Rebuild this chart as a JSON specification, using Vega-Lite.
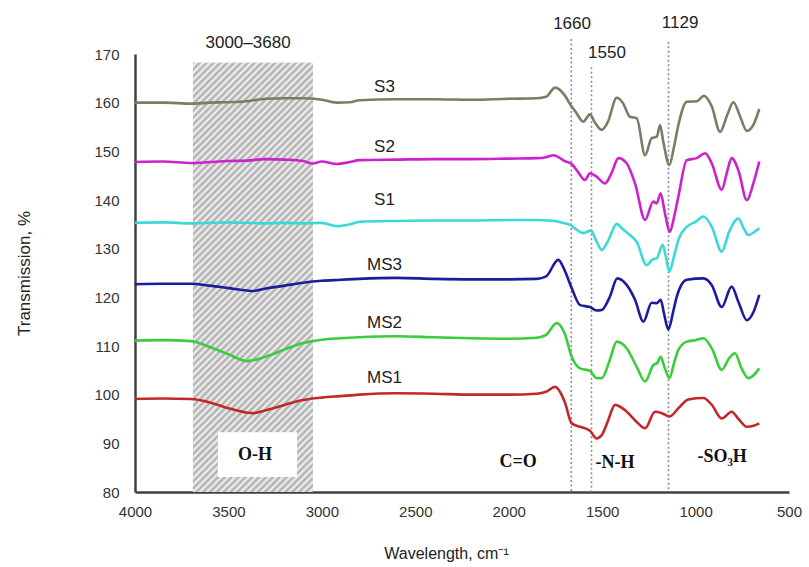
{
"$schema":"https://vega.github.io/schema/vega-lite/v6.json",
"autosize":{"type":"none"},
"padding":{"left":135,"top":54,"right":20,"bottom":75},
"width":654,
"height":438,
"config":{"view":{"stroke":null},"font":"Liberation Sans"},
"datasets":{
"spectra":[
{"s":"S3","w":4000,"t":160.0},{"s":"S3","w":3850,"t":160.0},{"s":"S3","w":3700,"t":159.8},{"s":"S3","w":3600,"t":160.0},{"s":"S3","w":3500,"t":160.1},{"s":"S3","w":3400,"t":160.3},{"s":"S3","w":3300,"t":160.8},{"s":"S3","w":3200,"t":160.9},{"s":"S3","w":3100,"t":160.9},{"s":"S3","w":3000,"t":160.6},{"s":"S3","w":2920,"t":160.0},{"s":"S3","w":2850,"t":160.1},{"s":"S3","w":2800,"t":160.5},{"s":"S3","w":2600,"t":160.7},{"s":"S3","w":2400,"t":160.7},{"s":"S3","w":2200,"t":160.6},{"s":"S3","w":2000,"t":160.8},{"s":"S3","w":1850,"t":160.9},{"s":"S3","w":1800,"t":161.2},{"s":"S3","w":1752,"t":163.1},{"s":"S3","w":1700,"t":161.5},{"s":"S3","w":1672,"t":159.7},{"s":"S3","w":1640,"t":158.0},{"s":"S3","w":1601,"t":156.1},{"s":"S3","w":1565,"t":157.6},{"s":"S3","w":1540,"t":156.0},{"s":"S3","w":1502,"t":154.4},{"s":"S3","w":1470,"t":156.0},{"s":"S3","w":1422,"t":161.0},{"s":"S3","w":1390,"t":160.0},{"s":"S3","w":1351,"t":157.1},{"s":"S3","w":1315,"t":156.8},{"s":"S3","w":1270,"t":149.2},{"s":"S3","w":1235,"t":152.7},{"s":"S3","w":1208,"t":153.0},{"s":"S3","w":1190,"t":155.4},{"s":"S3","w":1173,"t":152.0},{"s":"S3","w":1140,"t":147.2},{"s":"S3","w":1115,"t":151.0},{"s":"S3","w":1092,"t":155.4},{"s":"S3","w":1047,"t":160.2},{"s":"S3","w":994,"t":160.3},{"s":"S3","w":955,"t":161.4},{"s":"S3","w":913,"t":159.2},{"s":"S3","w":869,"t":154.0},{"s":"S3","w":830,"t":157.5},{"s":"S3","w":798,"t":160.1},{"s":"S3","w":760,"t":157.0},{"s":"S3","w":726,"t":154.2},{"s":"S3","w":690,"t":155.5},{"s":"S3","w":659,"t":158.7},
{"s":"S2","w":4000,"t":147.8},{"s":"S2","w":3850,"t":147.9},{"s":"S2","w":3700,"t":147.6},{"s":"S2","w":3600,"t":147.8},{"s":"S2","w":3500,"t":148.0},{"s":"S2","w":3400,"t":148.1},{"s":"S2","w":3300,"t":148.4},{"s":"S2","w":3200,"t":148.3},{"s":"S2","w":3100,"t":148.0},{"s":"S2","w":3050,"t":147.5},{"s":"S2","w":3000,"t":147.9},{"s":"S2","w":2920,"t":147.4},{"s":"S2","w":2850,"t":147.8},{"s":"S2","w":2800,"t":148.2},{"s":"S2","w":2600,"t":148.3},{"s":"S2","w":2400,"t":148.4},{"s":"S2","w":2200,"t":148.4},{"s":"S2","w":2000,"t":148.5},{"s":"S2","w":1850,"t":148.6},{"s":"S2","w":1800,"t":148.8},{"s":"S2","w":1760,"t":149.2},{"s":"S2","w":1700,"t":148.0},{"s":"S2","w":1663,"t":147.4},{"s":"S2","w":1630,"t":145.8},{"s":"S2","w":1592,"t":144.1},{"s":"S2","w":1565,"t":145.5},{"s":"S2","w":1530,"t":144.8},{"s":"S2","w":1485,"t":143.4},{"s":"S2","w":1450,"t":145.5},{"s":"S2","w":1413,"t":148.6},{"s":"S2","w":1368,"t":147.5},{"s":"S2","w":1324,"t":143.4},{"s":"S2","w":1270,"t":135.9},{"s":"S2","w":1226,"t":139.7},{"s":"S2","w":1208,"t":139.3},{"s":"S2","w":1187,"t":141.4},{"s":"S2","w":1164,"t":137.3},{"s":"S2","w":1137,"t":133.5},{"s":"S2","w":1115,"t":136.5},{"s":"S2","w":1092,"t":140.7},{"s":"S2","w":1047,"t":148.2},{"s":"S2","w":994,"t":148.6},{"s":"S2","w":949,"t":149.6},{"s":"S2","w":913,"t":147.5},{"s":"S2","w":860,"t":142.1},{"s":"S2","w":830,"t":146.0},{"s":"S2","w":807,"t":148.6},{"s":"S2","w":770,"t":146.0},{"s":"S2","w":726,"t":140.0},{"s":"S2","w":690,"t":143.5},{"s":"S2","w":659,"t":147.9},
{"s":"S1","w":4000,"t":135.3},{"s":"S1","w":3850,"t":135.4},{"s":"S1","w":3700,"t":135.2},{"s":"S1","w":3600,"t":135.3},{"s":"S1","w":3500,"t":135.4},{"s":"S1","w":3400,"t":135.3},{"s":"S1","w":3300,"t":135.2},{"s":"S1","w":3200,"t":135.3},{"s":"S1","w":3100,"t":135.2},{"s":"S1","w":3000,"t":135.3},{"s":"S1","w":2920,"t":134.6},{"s":"S1","w":2850,"t":135.0},{"s":"S1","w":2800,"t":135.5},{"s":"S1","w":2600,"t":135.7},{"s":"S1","w":2400,"t":135.8},{"s":"S1","w":2200,"t":135.8},{"s":"S1","w":2000,"t":135.9},{"s":"S1","w":1850,"t":135.9},{"s":"S1","w":1800,"t":135.8},{"s":"S1","w":1740,"t":135.6},{"s":"S1","w":1700,"t":135.2},{"s":"S1","w":1672,"t":134.9},{"s":"S1","w":1640,"t":134.0},{"s":"S1","w":1601,"t":133.2},{"s":"S1","w":1561,"t":133.7},{"s":"S1","w":1530,"t":131.5},{"s":"S1","w":1502,"t":129.7},{"s":"S1","w":1470,"t":131.5},{"s":"S1","w":1422,"t":135.1},{"s":"S1","w":1390,"t":134.0},{"s":"S1","w":1351,"t":132.8},{"s":"S1","w":1315,"t":131.4},{"s":"S1","w":1262,"t":126.6},{"s":"S1","w":1230,"t":127.8},{"s":"S1","w":1208,"t":128.0},{"s":"S1","w":1176,"t":130.8},{"s":"S1","w":1160,"t":128.5},{"s":"S1","w":1140,"t":125.3},{"s":"S1","w":1115,"t":128.5},{"s":"S1","w":1092,"t":131.8},{"s":"S1","w":1047,"t":134.5},{"s":"S1","w":1000,"t":135.5},{"s":"S1","w":958,"t":136.6},{"s":"S1","w":913,"t":134.5},{"s":"S1","w":860,"t":129.4},{"s":"S1","w":820,"t":133.5},{"s":"S1","w":771,"t":136.2},{"s":"S1","w":740,"t":134.0},{"s":"S1","w":718,"t":132.8},{"s":"S1","w":690,"t":133.3},{"s":"S1","w":659,"t":134.2},
{"s":"MS3","w":4000,"t":122.7},{"s":"MS3","w":3850,"t":122.8},{"s":"MS3","w":3700,"t":122.8},{"s":"MS3","w":3600,"t":122.4},{"s":"MS3","w":3500,"t":121.9},{"s":"MS3","w":3400,"t":121.4},{"s":"MS3","w":3370,"t":121.3},{"s":"MS3","w":3300,"t":121.8},{"s":"MS3","w":3200,"t":122.4},{"s":"MS3","w":3100,"t":123.0},{"s":"MS3","w":3000,"t":123.4},{"s":"MS3","w":2900,"t":123.6},{"s":"MS3","w":2800,"t":123.8},{"s":"MS3","w":2600,"t":124.0},{"s":"MS3","w":2400,"t":123.8},{"s":"MS3","w":2200,"t":123.7},{"s":"MS3","w":2000,"t":123.7},{"s":"MS3","w":1850,"t":123.8},{"s":"MS3","w":1800,"t":124.3},{"s":"MS3","w":1735,"t":127.7},{"s":"MS3","w":1700,"t":125.5},{"s":"MS3","w":1663,"t":121.9},{"s":"MS3","w":1618,"t":118.4},{"s":"MS3","w":1565,"t":118.0},{"s":"MS3","w":1530,"t":117.3},{"s":"MS3","w":1502,"t":117.4},{"s":"MS3","w":1460,"t":120.0},{"s":"MS3","w":1419,"t":123.9},{"s":"MS3","w":1368,"t":122.5},{"s":"MS3","w":1324,"t":119.5},{"s":"MS3","w":1279,"t":115.0},{"s":"MS3","w":1235,"t":118.9},{"s":"MS3","w":1208,"t":118.8},{"s":"MS3","w":1187,"t":119.5},{"s":"MS3","w":1169,"t":116.7},{"s":"MS3","w":1146,"t":113.4},{"s":"MS3","w":1120,"t":117.0},{"s":"MS3","w":1101,"t":120.1},{"s":"MS3","w":1047,"t":123.6},{"s":"MS3","w":958,"t":123.9},{"s":"MS3","w":913,"t":122.5},{"s":"MS3","w":860,"t":118.0},{"s":"MS3","w":807,"t":122.2},{"s":"MS3","w":770,"t":119.0},{"s":"MS3","w":726,"t":115.3},{"s":"MS3","w":690,"t":117.0},{"s":"MS3","w":659,"t":120.5},
{"s":"MS2","w":4000,"t":111.1},{"s":"MS2","w":3850,"t":111.2},{"s":"MS2","w":3700,"t":111.0},{"s":"MS2","w":3600,"t":109.8},{"s":"MS2","w":3500,"t":108.3},{"s":"MS2","w":3400,"t":106.9},{"s":"MS2","w":3300,"t":107.8},{"s":"MS2","w":3200,"t":109.3},{"s":"MS2","w":3100,"t":110.6},{"s":"MS2","w":3000,"t":111.3},{"s":"MS2","w":2900,"t":111.6},{"s":"MS2","w":2800,"t":111.8},{"s":"MS2","w":2600,"t":112.0},{"s":"MS2","w":2400,"t":111.8},{"s":"MS2","w":2200,"t":111.6},{"s":"MS2","w":2000,"t":111.5},{"s":"MS2","w":1850,"t":111.7},{"s":"MS2","w":1800,"t":112.3},{"s":"MS2","w":1743,"t":114.7},{"s":"MS2","w":1700,"t":112.5},{"s":"MS2","w":1663,"t":107.8},{"s":"MS2","w":1618,"t":105.4},{"s":"MS2","w":1565,"t":104.9},{"s":"MS2","w":1530,"t":103.4},{"s":"MS2","w":1502,"t":103.4},{"s":"MS2","w":1460,"t":107.0},{"s":"MS2","w":1422,"t":110.9},{"s":"MS2","w":1368,"t":109.5},{"s":"MS2","w":1315,"t":105.7},{"s":"MS2","w":1270,"t":102.7},{"s":"MS2","w":1226,"t":106.1},{"s":"MS2","w":1205,"t":106.5},{"s":"MS2","w":1187,"t":107.8},{"s":"MS2","w":1165,"t":105.5},{"s":"MS2","w":1140,"t":103.4},{"s":"MS2","w":1115,"t":106.5},{"s":"MS2","w":1092,"t":109.2},{"s":"MS2","w":1047,"t":110.9},{"s":"MS2","w":1000,"t":111.2},{"s":"MS2","w":958,"t":111.6},{"s":"MS2","w":913,"t":109.5},{"s":"MS2","w":860,"t":105.1},{"s":"MS2","w":820,"t":107.5},{"s":"MS2","w":789,"t":108.5},{"s":"MS2","w":755,"t":105.5},{"s":"MS2","w":718,"t":103.4},{"s":"MS2","w":690,"t":104.0},{"s":"MS2","w":659,"t":105.4},
{"s":"MS1","w":4000,"t":99.1},{"s":"MS1","w":3850,"t":99.2},{"s":"MS1","w":3700,"t":99.1},{"s":"MS1","w":3600,"t":98.4},{"s":"MS1","w":3500,"t":97.2},{"s":"MS1","w":3400,"t":96.3},{"s":"MS1","w":3370,"t":96.2},{"s":"MS1","w":3300,"t":96.8},{"s":"MS1","w":3200,"t":97.9},{"s":"MS1","w":3100,"t":98.9},{"s":"MS1","w":3000,"t":99.4},{"s":"MS1","w":2900,"t":99.7},{"s":"MS1","w":2800,"t":100.0},{"s":"MS1","w":2600,"t":100.3},{"s":"MS1","w":2400,"t":100.2},{"s":"MS1","w":2200,"t":100.0},{"s":"MS1","w":2000,"t":100.0},{"s":"MS1","w":1850,"t":100.2},{"s":"MS1","w":1800,"t":100.6},{"s":"MS1","w":1752,"t":101.6},{"s":"MS1","w":1700,"t":98.5},{"s":"MS1","w":1663,"t":94.1},{"s":"MS1","w":1618,"t":93.4},{"s":"MS1","w":1565,"t":92.6},{"s":"MS1","w":1530,"t":91.0},{"s":"MS1","w":1502,"t":91.7},{"s":"MS1","w":1470,"t":94.5},{"s":"MS1","w":1431,"t":97.9},{"s":"MS1","w":1368,"t":96.5},{"s":"MS1","w":1315,"t":94.4},{"s":"MS1","w":1270,"t":93.1},{"s":"MS1","w":1217,"t":96.5},{"s":"MS1","w":1181,"t":96.2},{"s":"MS1","w":1140,"t":95.5},{"s":"MS1","w":1092,"t":97.2},{"s":"MS1","w":1039,"t":99.0},{"s":"MS1","w":958,"t":99.3},{"s":"MS1","w":913,"t":97.9},{"s":"MS1","w":860,"t":95.1},{"s":"MS1","w":807,"t":96.5},{"s":"MS1","w":770,"t":95.0},{"s":"MS1","w":726,"t":93.4},{"s":"MS1","w":690,"t":93.6},{"s":"MS1","w":659,"t":94.1}
]
},
"layer":[
{
"data":{"values":[{}]},
"mark":{"type":"rect","fill":"#d4d4d4"},
"encoding":{
"x":{"datum":3690,"type":"quantitative","scale":{"domain":[500,4000],"reverse":true,"nice":false}},
"x2":{"datum":3048},
"y":{"datum":168.2,"type":"quantitative","scale":{"domain":[80,170],"nice":false}},
"y2":{"datum":80}
}
},
{
"data":{"values":[{}]},
"mark":{"type":"rect","fill":{"gradient":"linear","x1":0,"y1":0,"x2":0.332,"y2":1.187,"stops":[
{"offset":0,"color":"#aaa"},{"offset":0.00625,"color":"#f4f4f4"},{"offset":0.0125,"color":"#aaa"},{"offset":0.01875,"color":"#f4f4f4"},{"offset":0.025,"color":"#aaa"},{"offset":0.03125,"color":"#f4f4f4"},{"offset":0.0375,"color":"#aaa"},{"offset":0.04375,"color":"#f4f4f4"},
{"offset":0.05,"color":"#aaa"},{"offset":0.05625,"color":"#f4f4f4"},{"offset":0.0625,"color":"#aaa"},{"offset":0.06875,"color":"#f4f4f4"},{"offset":0.075,"color":"#aaa"},{"offset":0.08125,"color":"#f4f4f4"},{"offset":0.0875,"color":"#aaa"},{"offset":0.09375,"color":"#f4f4f4"},
{"offset":0.1,"color":"#aaa"},{"offset":0.10625,"color":"#f4f4f4"},{"offset":0.1125,"color":"#aaa"},{"offset":0.11875,"color":"#f4f4f4"},{"offset":0.125,"color":"#aaa"},{"offset":0.13125,"color":"#f4f4f4"},{"offset":0.1375,"color":"#aaa"},{"offset":0.14375,"color":"#f4f4f4"},
{"offset":0.15,"color":"#aaa"},{"offset":0.15625,"color":"#f4f4f4"},{"offset":0.1625,"color":"#aaa"},{"offset":0.16875,"color":"#f4f4f4"},{"offset":0.175,"color":"#aaa"},{"offset":0.18125,"color":"#f4f4f4"},{"offset":0.1875,"color":"#aaa"},{"offset":0.19375,"color":"#f4f4f4"},
{"offset":0.2,"color":"#aaa"},{"offset":0.20625,"color":"#f4f4f4"},{"offset":0.2125,"color":"#aaa"},{"offset":0.21875,"color":"#f4f4f4"},{"offset":0.225,"color":"#aaa"},{"offset":0.23125,"color":"#f4f4f4"},{"offset":0.2375,"color":"#aaa"},{"offset":0.24375,"color":"#f4f4f4"},
{"offset":0.25,"color":"#aaa"},{"offset":0.25625,"color":"#f4f4f4"},{"offset":0.2625,"color":"#aaa"},{"offset":0.26875,"color":"#f4f4f4"},{"offset":0.275,"color":"#aaa"},{"offset":0.28125,"color":"#f4f4f4"},{"offset":0.2875,"color":"#aaa"},{"offset":0.29375,"color":"#f4f4f4"},
{"offset":0.3,"color":"#aaa"},{"offset":0.30625,"color":"#f4f4f4"},{"offset":0.3125,"color":"#aaa"},{"offset":0.31875,"color":"#f4f4f4"},{"offset":0.325,"color":"#aaa"},{"offset":0.33125,"color":"#f4f4f4"},{"offset":0.3375,"color":"#aaa"},{"offset":0.34375,"color":"#f4f4f4"},
{"offset":0.35,"color":"#aaa"},{"offset":0.35625,"color":"#f4f4f4"},{"offset":0.3625,"color":"#aaa"},{"offset":0.36875,"color":"#f4f4f4"},{"offset":0.375,"color":"#aaa"},{"offset":0.38125,"color":"#f4f4f4"},{"offset":0.3875,"color":"#aaa"},{"offset":0.39375,"color":"#f4f4f4"},
{"offset":0.4,"color":"#aaa"},{"offset":0.40625,"color":"#f4f4f4"},{"offset":0.4125,"color":"#aaa"},{"offset":0.41875,"color":"#f4f4f4"},{"offset":0.425,"color":"#aaa"},{"offset":0.43125,"color":"#f4f4f4"},{"offset":0.4375,"color":"#aaa"},{"offset":0.44375,"color":"#f4f4f4"},
{"offset":0.45,"color":"#aaa"},{"offset":0.45625,"color":"#f4f4f4"},{"offset":0.4625,"color":"#aaa"},{"offset":0.46875,"color":"#f4f4f4"},{"offset":0.475,"color":"#aaa"},{"offset":0.48125,"color":"#f4f4f4"},{"offset":0.4875,"color":"#aaa"},{"offset":0.49375,"color":"#f4f4f4"},
{"offset":0.5,"color":"#aaa"},{"offset":0.50625,"color":"#f4f4f4"},{"offset":0.5125,"color":"#aaa"},{"offset":0.51875,"color":"#f4f4f4"},{"offset":0.525,"color":"#aaa"},{"offset":0.53125,"color":"#f4f4f4"},{"offset":0.5375,"color":"#aaa"},{"offset":0.54375,"color":"#f4f4f4"},
{"offset":0.55,"color":"#aaa"},{"offset":0.55625,"color":"#f4f4f4"},{"offset":0.5625,"color":"#aaa"},{"offset":0.56875,"color":"#f4f4f4"},{"offset":0.575,"color":"#aaa"},{"offset":0.58125,"color":"#f4f4f4"},{"offset":0.5875,"color":"#aaa"},{"offset":0.59375,"color":"#f4f4f4"},
{"offset":0.6,"color":"#aaa"},{"offset":0.60625,"color":"#f4f4f4"},{"offset":0.6125,"color":"#aaa"},{"offset":0.61875,"color":"#f4f4f4"},{"offset":0.625,"color":"#aaa"},{"offset":0.63125,"color":"#f4f4f4"},{"offset":0.6375,"color":"#aaa"},{"offset":0.64375,"color":"#f4f4f4"},
{"offset":0.65,"color":"#aaa"},{"offset":0.65625,"color":"#f4f4f4"},{"offset":0.6625,"color":"#aaa"},{"offset":0.66875,"color":"#f4f4f4"},{"offset":0.675,"color":"#aaa"},{"offset":0.68125,"color":"#f4f4f4"},{"offset":0.6875,"color":"#aaa"},{"offset":0.69375,"color":"#f4f4f4"},
{"offset":0.7,"color":"#aaa"},{"offset":0.70625,"color":"#f4f4f4"},{"offset":0.7125,"color":"#aaa"},{"offset":0.71875,"color":"#f4f4f4"},{"offset":0.725,"color":"#aaa"},{"offset":0.73125,"color":"#f4f4f4"},{"offset":0.7375,"color":"#aaa"},{"offset":0.74375,"color":"#f4f4f4"},
{"offset":0.75,"color":"#aaa"},{"offset":0.75625,"color":"#f4f4f4"},{"offset":0.7625,"color":"#aaa"},{"offset":0.76875,"color":"#f4f4f4"},{"offset":0.775,"color":"#aaa"},{"offset":0.78125,"color":"#f4f4f4"},{"offset":0.7875,"color":"#aaa"},{"offset":0.79375,"color":"#f4f4f4"},
{"offset":0.8,"color":"#aaa"},{"offset":0.80625,"color":"#f4f4f4"},{"offset":0.8125,"color":"#aaa"},{"offset":0.81875,"color":"#f4f4f4"},{"offset":0.825,"color":"#aaa"},{"offset":0.83125,"color":"#f4f4f4"},{"offset":0.8375,"color":"#aaa"},{"offset":0.84375,"color":"#f4f4f4"},
{"offset":0.85,"color":"#aaa"},{"offset":0.85625,"color":"#f4f4f4"},{"offset":0.8625,"color":"#aaa"},{"offset":0.86875,"color":"#f4f4f4"},{"offset":0.875,"color":"#aaa"},{"offset":0.88125,"color":"#f4f4f4"},{"offset":0.8875,"color":"#aaa"},{"offset":0.89375,"color":"#f4f4f4"},
{"offset":0.9,"color":"#aaa"},{"offset":0.90625,"color":"#f4f4f4"},{"offset":0.9125,"color":"#aaa"},{"offset":0.91875,"color":"#f4f4f4"},{"offset":0.925,"color":"#aaa"},{"offset":0.93125,"color":"#f4f4f4"},{"offset":0.9375,"color":"#aaa"},{"offset":0.94375,"color":"#f4f4f4"},
{"offset":0.95,"color":"#aaa"},{"offset":0.95625,"color":"#f4f4f4"},{"offset":0.9625,"color":"#aaa"},{"offset":0.96875,"color":"#f4f4f4"},{"offset":0.975,"color":"#aaa"},{"offset":0.98125,"color":"#f4f4f4"},{"offset":0.9875,"color":"#aaa"},{"offset":0.99375,"color":"#f4f4f4"},
{"offset":1,"color":"#aaa"}
]}},
"encoding":{
"x":{"datum":3690,"type":"quantitative"},
"x2":{"datum":3048},
"y":{"datum":168.2,"type":"quantitative"},
"y2":{"datum":80}
}
},
{
"data":{"values":[{}]},
"mark":{"type":"rect","fill":"white"},
"encoding":{
"x":{"datum":3556,"type":"quantitative"},
"x2":{"datum":3133},
"y":{"datum":92.3,"type":"quantitative"},
"y2":{"datum":83.1}
}
},
{
"data":{"values":[{"w":1665,"top":173.1},{"w":1557,"top":167.3},{"w":1145,"top":172.5}]},
"mark":{"type":"rule","color":"#8a8a9a","strokeWidth":1.6,"strokeDash":[2,2.5]},
"encoding":{
"x":{"field":"w","type":"quantitative"},
"y":{"field":"top","type":"quantitative"},
"y2":{"datum":80}
}
},
{
"data":{"name":"spectra"},
"mark":{"type":"line","strokeWidth":2.6,"interpolate":"monotone"},
"encoding":{
"x":{"field":"w","type":"quantitative","axis":{"title":"Wavelength, cm⁻¹","values":[4000,3500,3000,2500,2000,1500,1000,500],"format":"d","labelFlush":false,"grid":false,"ticks":false,"domainColor":"#404040","domainWidth":2.5,"labelFontSize":15,"labelColor":"#333","labelPadding":12,"titleFontSize":16,"titleFontWeight":"normal","titleColor":"#222","titleX":311,"titleY":61,"titleBaseline":"middle","titleAlign":"center"}},
"y":{"field":"t","type":"quantitative","axis":{"title":"Transmission, %","values":[80,90,100,110,120,130,140,150,160,170],"format":"d","labelFlush":false,"grid":false,"ticks":false,"domainColor":"#404040","domainWidth":2.5,"labelFontSize":15,"labelColor":"#333","labelPadding":16,"titleFontSize":17,"titleFontWeight":"normal","titleColor":"#222","titleX":-111,"titleY":219,"titleAngle":-90,"titleBaseline":"middle","titleAlign":"center"}},
"color":{"field":"s","type":"nominal","legend":null,"scale":{"domain":["S3","S2","S1","MS3","MS2","MS1"],"range":["#7b7d62","#cc22cc","#3cd8d8","#1c1c9c","#3ccc3c","#c0282a"]}},
"detail":{"field":"s"}
}
},
{
"data":{"values":[{"label":"S3","w":2665,"t":163.2},{"label":"S2","w":2665,"t":150.9},{"label":"S1","w":2665,"t":140.0},{"label":"MS3","w":2665,"t":126.6},{"label":"MS2","w":2665,"t":114.7},{"label":"MS1","w":2665,"t":103.4}]},
"mark":{"type":"text","fontSize":17,"color":"#222","font":"Liberation Sans","baseline":"middle","align":"center"},
"encoding":{
"x":{"field":"w","type":"quantitative"},
"y":{"field":"t","type":"quantitative"},
"text":{"field":"label"}
}
},
{
"data":{"values":[{"label":"3000–3680","w":3395,"t":172.3},{"label":"1660","w":1661,"t":176.2},{"label":"1550","w":1474,"t":170.2},{"label":"1129","w":1083,"t":176.4}]},
"mark":{"type":"text","fontSize":17,"color":"#222","font":"Liberation Sans","baseline":"middle","align":"center"},
"encoding":{
"x":{"field":"w","type":"quantitative"},
"y":{"field":"t","type":"quantitative"},
"text":{"field":"label"}
}
},
{
"data":{"values":[{"label":"O-H","w":3358,"t":87.6},{"label":"C=O","w":1950,"t":86.2},{"label":"-N-H","w":1431,"t":86.0},{"label":"-SO₃H","w":858,"t":87.2}]},
"mark":{"type":"text","fontSize":18,"color":"#111","font":"Liberation Serif","fontWeight":"bold","baseline":"middle","align":"center"},
"encoding":{
"x":{"field":"w","type":"quantitative"},
"y":{"field":"t","type":"quantitative"},
"text":{"field":"label"}
}
}
]
}
